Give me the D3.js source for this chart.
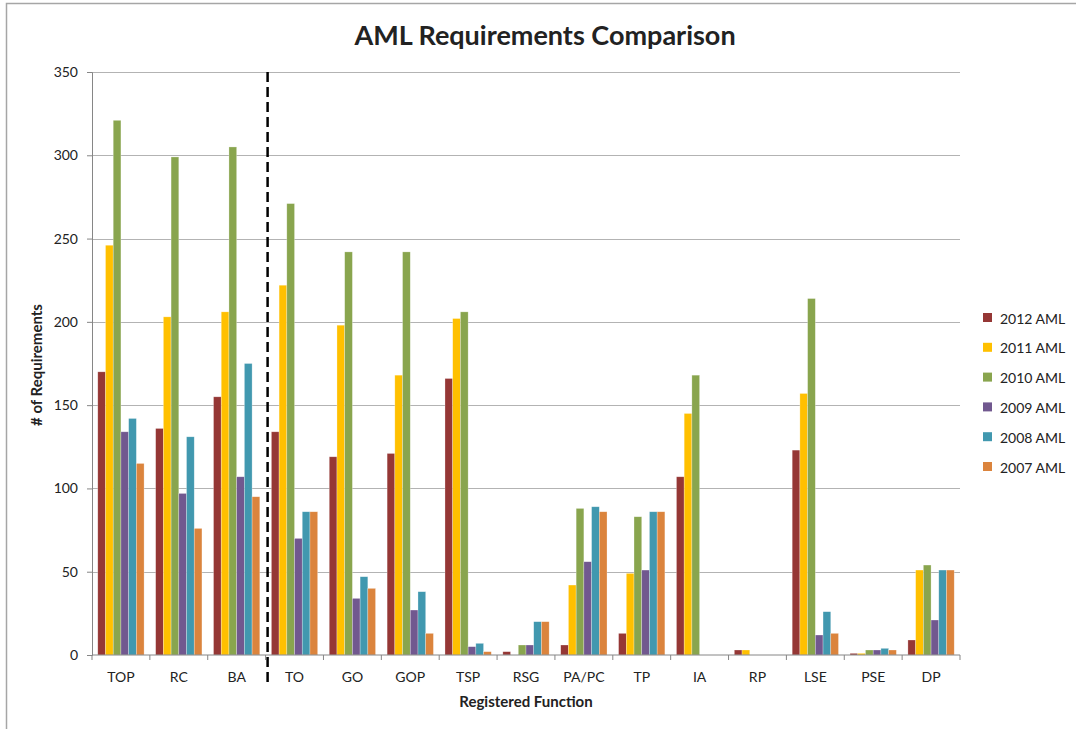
<!DOCTYPE html>
<html>
<head>
<meta charset="utf-8">
<script src="https://cdn.jsdelivr.net/npm/d3@7"></script>
<style>
  body { margin: 0; background: #fff; }
  text { font-family: Lato, "Open Sans", sans-serif; fill: #222; }
</style>
</head>
<body>
<div id="chart"></div>
<script>
(function() {
    var width = 1076,
        height = 729;

    // data
    var categories = ["TOP", "RC", "BA", "TO", "GO", "GOP", "TSP", "RSG", "PA/PC", "TP", "IA", "RP", "LSE", "PSE", "DP"];
    var seriesNames = ["2012 AML", "2011 AML", "2010 AML", "2009 AML", "2008 AML", "2007 AML"];
    var aml2012 = [170, 136, 155, 134, 119, 121, 166, 2, 6, 13, 107, 3, 123, 1, 9];
    var aml2011 = [246, 203, 206, 222, 198, 168, 202, 0, 42, 49, 145, 3, 157, 1, 51];
    var aml2010 = [321, 299, 305, 271, 242, 242, 206, 6, 88, 83, 168, 0, 214, 3, 54];
    var aml2009 = [134, 97, 107, 70, 34, 27, 5, 6, 56, 51, 0, 0, 12, 3, 21];
    var aml2008 = [142, 131, 175, 86, 47, 38, 7, 20, 89, 86, 0, 0, 26, 4, 51];
    var aml2007 = [115, 76, 95, 86, 40, 13, 2, 20, 86, 86, 0, 0, 13, 3, 51];
    var yTicks = [0, 50, 100, 150, 200, 250, 300, 350];

    var seriesValues = [aml2012, aml2011, aml2010, aml2009, aml2008, aml2007];
    var colors = ["#953735", "#ffc000", "#89a54e", "#71588f", "#4198af", "#db843d"];

    var margin = {left: 92, right: 116, top: 72, bottom: 74};

    var svg = d3.select("#chart")
        .append("svg")
        .attr("width", width)
        .attr("height", height);

    // chart frame (only top and left edges visible)
    svg.append("path")
        .attr("d", "M6.5," + height + "V3.5H" + width)
        .attr("fill", "none")
        .attr("stroke", "#a6a6a6")
        .attr("stroke-width", 1.5);

    var x = d3.scaleBand()
        .domain(categories)
        .range([margin.left, width - margin.right]);

    var x1 = d3.scaleBand()
        .domain(seriesNames)
        .range([0, x.bandwidth()])
        .paddingOuter(0.75);

    var y = d3.scaleLinear()
        .domain([0, 350])
        .range([height - margin.bottom, margin.top]);

    // gridlines
    svg.append("g")
        .selectAll("line")
        .data(yTicks.slice(1))
        .enter()
        .append("line")
        .attr("x1", margin.left)
        .attr("x2", width - margin.right)
        .attr("y1", function(d) { return Math.round(y(d)) + 0.5; })
        .attr("y2", function(d) { return Math.round(y(d)) + 0.5; })
        .attr("stroke", "#b3b3b3")
        .attr("stroke-width", 1.2);

    // bars
    var groups = svg.append("g")
        .selectAll("g")
        .data(seriesValues)
        .enter()
        .append("g")
        .attr("fill", function(d, i) { return colors[i]; });

    groups.selectAll("rect")
        .data(function(vals, i) {
            return vals.map(function(v, j) { return {cat: categories[j], series: seriesNames[i], value: v}; });
        })
        .enter()
        .append("rect")
        .attr("x", function(d) { return x(d.cat) + x1(d.series); })
        .attr("width", x1.bandwidth())
        .attr("y", function(d) { return y(d.value); })
        .attr("height", function(d) { return y(0) - y(d.value); })
        .attr("stroke", "#ffffff")
        .attr("stroke-opacity", 0.45)
        .attr("stroke-width", 0.6);

    // y axis
    var yAxis = svg.append("g")
        .attr("transform", "translate(" + margin.left + ",0)")
        .call(d3.axisLeft(y).tickValues(yTicks).tickSize(5).tickPadding(9));
    yAxis.selectAll("path, line").attr("stroke", "#868686");
    yAxis.selectAll("text")
        .style("font-family", "Lato, 'Open Sans', sans-serif")
        .style("font-size", "14px")
        .attr("fill", "#222");

    // x axis with ticks between categories
    var xAxisG = svg.append("g")
        .attr("transform", "translate(0," + y(0) + ")");
    xAxisG.append("line")
        .attr("x1", margin.left)
        .attr("x2", width - margin.right)
        .attr("stroke", "#868686");
    xAxisG.selectAll("line.tick")
        .data(categories.concat(["end"]))
        .enter()
        .append("line")
        .attr("class", "tick")
        .attr("x1", function(d, i) { return margin.left + i * x.step(); })
        .attr("x2", function(d, i) { return margin.left + i * x.step(); })
        .attr("y1", 0)
        .attr("y2", 5)
        .attr("stroke", "#868686");
    xAxisG.selectAll("text")
        .data(categories)
        .enter()
        .append("text")
        .attr("x", function(d) { return x(d) + x.bandwidth() / 2; })
        .attr("y", 27)
        .attr("text-anchor", "middle")
        .style("font-size", "14px")
        .text(function(d) { return d; });

    // dashed separator between BA and TO
    var sepX = x("TO");
    svg.append("line")
        .attr("x1", sepX + 2)
        .attr("x2", sepX + 2)
        .attr("y1", margin.top)
        .attr("y2", y(0) + 30)
        .attr("stroke", "#000")
        .attr("stroke-width", 2.5)
        .attr("stroke-dasharray", "10,5");

    // title
    svg.append("text")
        .attr("x", 545)
        .attr("y", 45)
        .attr("text-anchor", "middle")
        .style("font-size", "27px")
        .style("font-weight", "bold")
        .text("AML Requirements Comparison");

    // axis titles
    svg.append("text")
        .attr("x", 526)
        .attr("y", 707)
        .attr("text-anchor", "middle")
        .style("font-size", "15px")
        .style("font-weight", "bold")
        .text("Registered Function");

    svg.append("text")
        .attr("transform", "translate(42," + 365 + ") rotate(-90)")
        .attr("text-anchor", "middle")
        .style("font-size", "15px")
        .style("font-weight", "bold")
        .text("# of Requirements");

    // legend
    var legend = svg.append("g")
        .attr("transform", "translate(983,313)");
    seriesNames.forEach(function(name, i) {
        var item = legend.append("g")
            .attr("transform", "translate(0," + (i * 29.8) + ")");
        item.append("rect")
            .attr("width", 9)
            .attr("height", 9)
            .attr("fill", colors[i]);
        item.append("text")
            .attr("x", 17)
            .attr("y", 5)
            .attr("dominant-baseline", "central")
            .style("font-size", "14px")
            .text(name);
    });
})();
</script>
</body>
</html>
